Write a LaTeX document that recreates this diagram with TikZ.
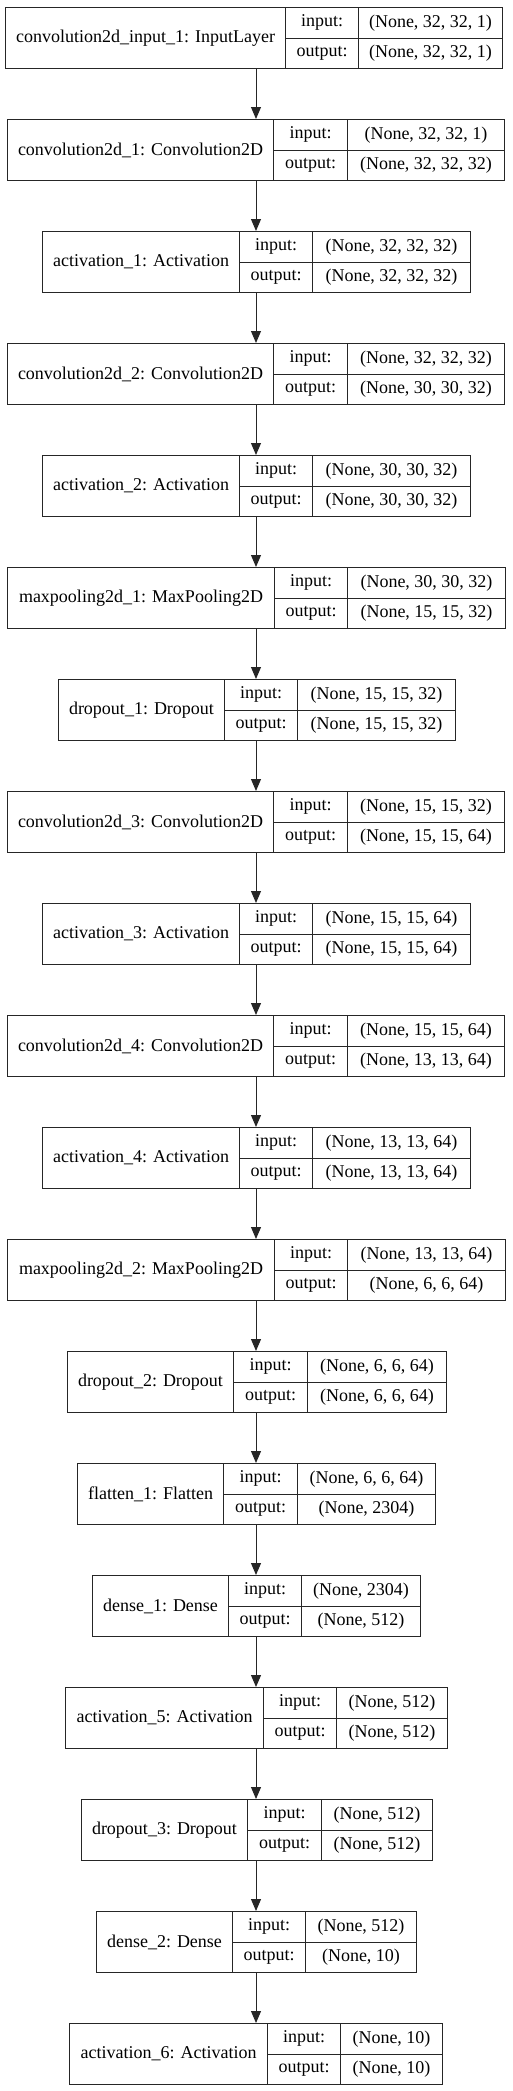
\documentclass[tikz,border=0pt]{standalone}
\usepackage{fontspec}
\setmainfont{Liberation Serif}
\usetikzlibrary{arrows.meta}

\tikzset{
	cell/.style = {draw = black!85, line width = 1pt, inner sep = 0pt, anchor = north west, font = \fontsize{18}{21}\selectfont},
	flow/.style = {draw = black!85, line width = 1pt, -{Triangle[length = 12pt, width = 10pt]}}
}

% \layer{id}{top}{x0}{x1}{x2}{x3}{name}{input}{output}
\newcommand{\layer}[9]{
	\node[cell, minimum width = #4pt-#3pt, minimum height = 61pt] (#1) at (#3, #2) {#7};
	\node[cell, minimum width = #5pt-#4pt, minimum height = 30.5pt] (#1-inl) at (#4, #2) {input:};
	\node[cell, minimum width = #5pt-#4pt, minimum height = 30.5pt] (#1-outl) at (#4, #2+30.5) {output:};
	\node[cell, minimum width = #6pt-#5pt, minimum height = 30.5pt] (#1-in) at (#5, #2) {#8};
	\node[cell, minimum width = #6pt-#5pt, minimum height = 30.5pt] (#1-out) at (#5, #2+30.5) {#9};
	\coordinate (#1-top) at (256, #2);
	\coordinate (#1-bot) at (256, #2+61);
}

\begin{document}
\begin{tikzpicture}[x = 1pt, y = -1pt]

	\useasboundingbox (0, 0) rectangle (512, 2091);

	\layer{inp}{7}{5}{285}{358}{502}{convolution2d\_input\_1: InputLayer}{(None, 32, 32, 1)}{(None, 32, 32, 1)}
	\layer{convA}{119}{7}{273}{347}{504}{convolution2d\_1: Convolution2D}{(None, 32, 32, 1)}{(None, 32, 32, 32)}
	\layer{actA}{231}{42}{239}{312}{470}{activation\_1: Activation}{(None, 32, 32, 32)}{(None, 32, 32, 32)}
	\layer{convB}{343}{7}{273}{347}{504}{convolution2d\_2: Convolution2D}{(None, 32, 32, 32)}{(None, 30, 30, 32)}
	\layer{actB}{455}{42}{239}{312}{470}{activation\_2: Activation}{(None, 30, 30, 32)}{(None, 30, 30, 32)}
	\layer{poolA}{567}{7}{274}{347}{505}{maxpooling2d\_1: MaxPooling2D}{(None, 30, 30, 32)}{(None, 15, 15, 32)}
	\layer{dropA}{679}{58}{224}{297}{455}{dropout\_1: Dropout}{(None, 15, 15, 32)}{(None, 15, 15, 32)}
	\layer{convC}{791}{7}{273}{347}{504}{convolution2d\_3: Convolution2D}{(None, 15, 15, 32)}{(None, 15, 15, 64)}
	\layer{actC}{903}{42}{239}{312}{470}{activation\_3: Activation}{(None, 15, 15, 64)}{(None, 15, 15, 64)}
	\layer{convD}{1015}{7}{273}{347}{504}{convolution2d\_4: Convolution2D}{(None, 15, 15, 64)}{(None, 13, 13, 64)}
	\layer{actD}{1127}{42}{239}{312}{470}{activation\_4: Activation}{(None, 13, 13, 64)}{(None, 13, 13, 64)}
	\layer{poolB}{1239}{7}{274}{347}{505}{maxpooling2d\_2: MaxPooling2D}{(None, 13, 13, 64)}{(None, 6, 6, 64)}
	\layer{dropB}{1351}{67}{233}{307}{446}{dropout\_2: Dropout}{(None, 6, 6, 64)}{(None, 6, 6, 64)}
	\layer{flat}{1463}{77}{223}{297}{435}{flatten\_1: Flatten}{(None, 6, 6, 64)}{(None, 2304)}
	\layer{denseA}{1575}{92}{228}{301}{420}{dense\_1: Dense}{(None, 2304)}{(None, 512)}
	\layer{actE}{1687}{65}{263}{336}{447}{activation\_5: Activation}{(None, 512)}{(None, 512)}
	\layer{dropC}{1799}{81}{247}{321}{432}{dropout\_3: Dropout}{(None, 512)}{(None, 512)}
	\layer{denseB}{1911}{96}{232}{305}{416}{dense\_2: Dense}{(None, 512)}{(None, 10)}
	\layer{actF}{2023}{69}{267}{340}{442}{activation\_6: Activation}{(None, 10)}{(None, 10)}

	\draw[flow] (inp-bot) -- (convA-top);
	\draw[flow] (convA-bot) -- (actA-top);
	\draw[flow] (actA-bot) -- (convB-top);
	\draw[flow] (convB-bot) -- (actB-top);
	\draw[flow] (actB-bot) -- (poolA-top);
	\draw[flow] (poolA-bot) -- (dropA-top);
	\draw[flow] (dropA-bot) -- (convC-top);
	\draw[flow] (convC-bot) -- (actC-top);
	\draw[flow] (actC-bot) -- (convD-top);
	\draw[flow] (convD-bot) -- (actD-top);
	\draw[flow] (actD-bot) -- (poolB-top);
	\draw[flow] (poolB-bot) -- (dropB-top);
	\draw[flow] (dropB-bot) -- (flat-top);
	\draw[flow] (flat-bot) -- (denseA-top);
	\draw[flow] (denseA-bot) -- (actE-top);
	\draw[flow] (actE-bot) -- (dropC-top);
	\draw[flow] (dropC-bot) -- (denseB-top);
	\draw[flow] (denseB-bot) -- (actF-top);

\end{tikzpicture}
\end{document}
